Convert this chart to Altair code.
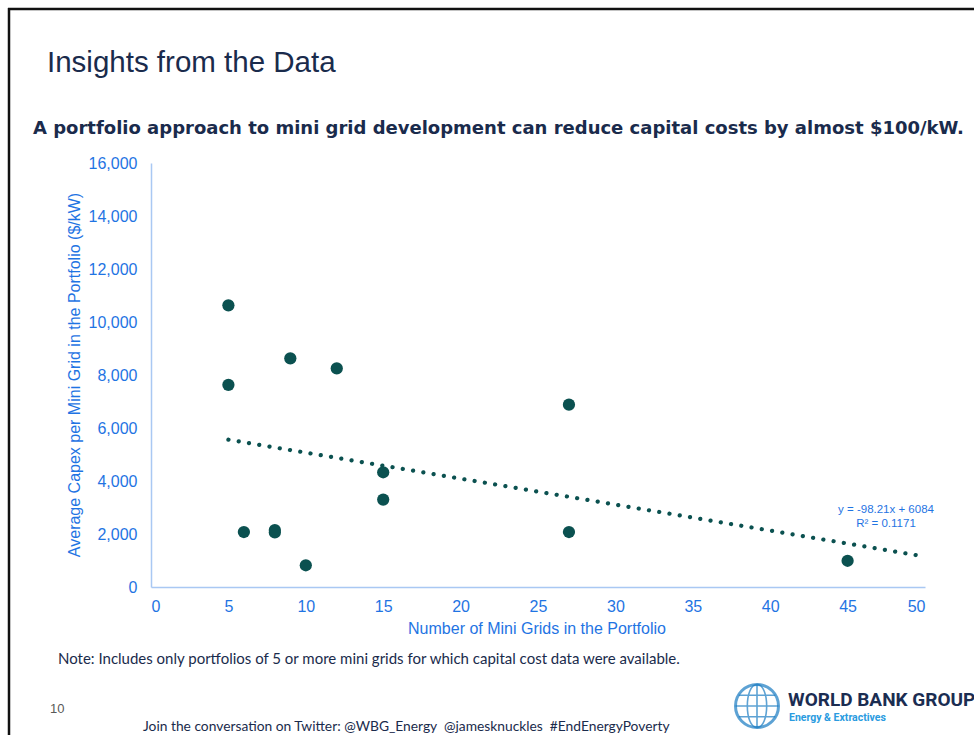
import altair as alt
import pandas as pd

# ---- data ----
mini_grids = [5, 5, 6, 8, 8, 9, 10, 12, 15, 15, 27, 27, 45]
capex = [10630, 7630, 2075, 2150, 2060, 8630, 820, 8250, 4330, 3300, 6880, 2075, 990]
x_ticks = [0, 5, 10, 15, 20, 25, 30, 35, 40, 45, 50]
y_ticks = [0, 2000, 4000, 6000, 8000, 10000, 12000, 14000, 16000]

title_text = "Insights from the Data"
subtitle_text = "A portfolio approach to mini grid development can reduce capital costs by almost $100/kW."
x_title = "Number of Mini Grids in the Portfolio"
y_title = "Average Capex per Mini Grid in the Portfolio ($/kW)"
eq_lines = ["y = -98.21x + 6084", "R\u00b2 = 0.1171"]
note_text = "Note: Includes only portfolios of 5 or more mini grids for which capital cost data were available."
page_no = "10"
footer_text = "Join the conversation on Twitter: @WBG_Energy\u00a0\u00a0@jamesknuckles\u00a0\u00a0#EndEnergyPoverty"

df = pd.DataFrame({"mini_grids": mini_grids, "capex": capex})

# plot area in page pixels
L, T, W, H = 151, 163, 774, 424
PW, PH = 974, 735

def px(v):
    return v - L

def py(v):
    return v - T

BLUE = "#1f74e3"
TEAL = "#0b5150"
NAVY = "#1a2b4c"

xs = alt.Scale(domain=[0, 50], nice=False, zero=True)
ys = alt.Scale(domain=[0, 16000], nice=False)

base = alt.Chart(df)

points = base.mark_circle(size=150, opacity=1, color=TEAL).encode(
    x=alt.X("mini_grids:Q", scale=xs,
            axis=alt.Axis(values=x_ticks, title=None, labelFontSize=16, labelColor=BLUE,
                          labelFont="Liberation Sans", ticks=False, tickSize=0, labelPadding=11,
                          domainColor="#a9c8f3", domainWidth=1.5, grid=False)),
    y=alt.Y("capex:Q", scale=ys,
            axis=alt.Axis(values=y_ticks, title=None, labelFontSize=16, labelColor=BLUE,
                          labelFont="Liberation Sans", ticks=False, tickSize=0, labelPadding=14,
                          format=",d", domainColor="#a9c8f3", domainWidth=1.5, grid=False)),
)

trend = base.transform_regression(
    "mini_grids", "capex", extent=[5, 50]
).mark_line(color=TEAL, strokeWidth=4.2, strokeDash=[0.1, 10.3], strokeCap="round").encode(
    x=alt.X("mini_grids:Q", scale=xs),
    y=alt.Y("capex:Q", scale=ys),
)

one = alt.Data(values=[{"a": 1}])

def text(t, x, y, size, color, weight="normal", font="Liberation Sans", align="left",
         baseline="alphabetic", angle=None):
    kw = dict(text=t, fontSize=size, color=color, fontWeight=weight, font=font,
              align=align, baseline=baseline)
    if angle is not None:
        kw["angle"] = angle
    return alt.Chart(one).mark_text(**kw).encode(x=alt.value(px(x)), y=alt.value(py(y)))

layers = [trend, points]

layers.append(text(title_text, 47, 72, 29.5, NAVY, font="Liberation Sans"))
layers.append(text(subtitle_text, 33, 134, 18, NAVY, weight="bold", font="DejaVu Sans"))
layers.append(text(y_title, 75, 375, 16, BLUE, align="center", baseline="middle", angle=270))
layers.append(text(x_title, 537, 629, 16, BLUE, align="center", baseline="middle"))
layers.append(text(eq_lines[0], 886, 510, 11.5, BLUE, align="center", baseline="middle"))
layers.append(text(eq_lines[1], 886, 523.5, 11.5, BLUE, align="center", baseline="middle"))
layers.append(text(note_text, 58, 664, 15, NAVY, font="Lato"))
layers.append(text(page_no, 50, 713, 13, "#595959"))
layers.append(text(footer_text, 143, 731, 13.8, NAVY, font="Lato"))

# logo
layers.append(text("WORLD BANK GROUP", 788, 706, 19, "#1b2d52", weight="bold", font="Roboto"))
layers.append(text("Energy & Extractives", 789, 721, 10.5, "#2a9be0", weight="bold", font="Roboto"))
globe = alt.Chart(one).mark_point(shape="circle", size=1850, filled=False, color="#1a7cc2",
                                  strokeWidth=3).encode(x=alt.value(px(757)), y=alt.value(py(706)))
merid = alt.Chart(one).mark_point(
    shape="M0,-1 C0.6,-1 0.6,1 0,1 C-0.6,1 -0.6,-1 0,-1 Z M-1,0 L1,0 M-0.85,-0.5 L0.85,-0.5 M-0.85,0.5 L0.85,0.5 M0,-1 L0,1",
    size=1850, filled=False, color="#1a7cc2", strokeWidth=1.6
).encode(x=alt.value(px(757)), y=alt.value(py(706)))
layers += [globe, merid]

# slide border
layers.append(alt.Chart(one).mark_rule(color="#111111", strokeWidth=2.5).encode(
    x=alt.value(px(8)), x2=alt.value(px(974)), y=alt.value(py(9))))
layers.append(alt.Chart(one).mark_rule(color="#111111", strokeWidth=2.5).encode(
    x=alt.value(px(9)), y=alt.value(py(8)), y2=alt.value(py(735))))

chart = alt.layer(*layers).properties(
    width=W, height=H,
    padding={"left": L, "top": T, "right": PW - L - W, "bottom": PH - T - H},
    autosize=alt.AutoSizeParams(type="none"),
    background="white",
).configure_view(stroke=None)

chart.save("out.html", embed_options={"renderer": "svg", "actions": False})
